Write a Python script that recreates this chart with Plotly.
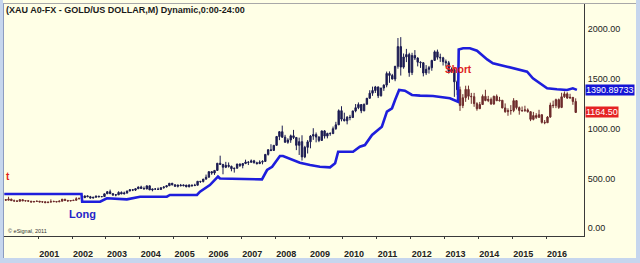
import plotly.graph_objects as go

# ---------------- data (monthly XAU/USD, Jan 2000 .. Nov 2016) ----------------
start_year = 2000
opens = [
    288, 283, 293, 278, 274, 272, 288, 276, 278, 273, 264, 270,      # 2000
    273, 265, 267, 258, 264, 267, 270, 266, 273, 293, 279, 275,      # 2001
    279, 282, 297, 302, 308, 326, 318, 304, 312, 324, 317, 319,      # 2002
    347, 368, 348, 334, 337, 361, 346, 354, 375, 388, 384, 398,      # 2003
    416, 400, 396, 427, 386, 395, 395, 391, 408, 416, 428, 453,      # 2004
    438, 422, 435, 428, 435, 417, 436, 429, 433, 473, 470, 495,      # 2005
    513, 569, 556, 582, 654, 643, 614, 633, 623, 599, 604, 646,      # 2006
    632, 651, 666, 663, 678, 659, 650, 665, 672, 743, 789, 783,      # 2007
    834, 923, 971, 916, 865, 887, 930, 913, 834, 871, 718, 814,      # 2008
    869, 927, 942, 917, 883, 979, 927, 954, 952, 1001, 1040, 1182,   # 2009
    1097, 1081, 1117, 1113, 1180, 1212, 1244, 1181, 1247, 1307, 1358, 1385,  # 2010
    1421, 1332, 1410, 1439, 1556, 1536, 1500, 1628, 1826, 1620, 1722, 1746,  # 2011
    1565, 1737, 1711, 1669, 1664, 1561, 1598, 1614, 1687, 1773, 1719, 1713,  # 2012
    1675, 1663, 1578, 1595, 1472, 1393, 1234, 1312, 1396, 1327, 1323, 1253,  # 2013
    1202, 1244, 1326, 1284, 1296, 1250, 1327, 1282, 1287, 1210, 1172, 1182,  # 2014
    1184, 1283, 1213, 1183, 1183, 1190, 1172, 1095, 1133, 1115, 1142, 1065,  # 2015
    1061, 1118, 1238, 1233, 1293, 1215, 1322, 1351, 1309, 1316, 1275,        # 2016
]
highs = [
    293, 317, 297, 289, 283, 293, 290, 281, 278, 275, 272, 276,
    274, 269, 270, 265, 291, 278, 271, 280, 294, 294, 286, 283,
    286, 312, 304, 310, 328, 332, 326, 316, 327, 325, 322, 349,
    373, 389, 355, 342, 372, 371, 369, 378, 392, 395, 400, 418,
    428, 420, 428, 430, 396, 403, 410, 412, 421, 431, 455, 456,
    441, 438, 446, 439, 435, 441, 437, 448, 474, 476, 495, 540,
    573, 574, 586, 654, 730, 646, 668, 662, 630, 608, 649, 652,
    654, 690, 674, 692, 688, 669, 683, 684, 745, 796, 845, 836,
    928, 976, 1032, 939, 905, 942, 989, 918, 911, 935, 829, 887,
    937, 1006, 963, 926, 982, 987, 960, 965, 1023, 1070, 1195, 1227,
    1162, 1127, 1140, 1180, 1249, 1265, 1246, 1253, 1310, 1388, 1424, 1431,
    1424, 1411, 1447, 1575, 1577, 1552, 1632, 1912, 1921, 1757, 1803, 1764,
    1764, 1791, 1719, 1678, 1669, 1640, 1632, 1693, 1788, 1796, 1755, 1723,
    1696, 1682, 1617, 1617, 1487, 1424, 1348, 1433, 1434, 1361, 1361, 1267,
    1270, 1345, 1392, 1331, 1315, 1332, 1345, 1321, 1287, 1255, 1206, 1238,
    1308, 1287, 1224, 1224, 1232, 1205, 1175, 1170, 1157, 1191, 1143, 1088,
    1128, 1263, 1283, 1303, 1304, 1362, 1375, 1367, 1352, 1318, 1306,
]
lows = [
    281, 282, 276, 271, 269, 270, 275, 269, 271, 263, 263, 267,
    263, 255, 256, 255, 263, 266, 263, 265, 270, 276, 271, 272,
    277, 280, 290, 299, 306, 314, 300, 301, 309, 313, 315, 317,
    346, 345, 328, 322, 334, 343, 341, 350, 372, 374, 375, 396,
    397, 393, 392, 386, 372, 386, 388, 385, 398, 411, 425, 430,
    419, 411, 424, 422, 414, 413, 417, 430, 432, 456, 461, 488,
    513, 538, 537, 579, 640, 543, 605, 610, 573, 560, 601, 616,
    603, 645, 636, 663, 651, 642, 650, 643, 672, 731, 775, 779,
    834, 886, 908, 860, 850, 859, 897, 786, 737, 681, 705, 752,
    804, 889, 864, 866, 880, 902, 904, 930, 947, 990, 1040, 1075,
    1075, 1045, 1086, 1112, 1166, 1197, 1157, 1176, 1243, 1305, 1331, 1360,
    1309, 1324, 1381, 1417, 1462, 1496, 1478, 1604, 1535, 1604, 1670, 1523,
    1540, 1691, 1627, 1612, 1527, 1540, 1555, 1583, 1686, 1695, 1672, 1636,
    1626, 1555, 1562, 1321, 1338, 1180, 1208, 1271, 1292, 1251, 1221, 1182,
    1202, 1240, 1277, 1268, 1240, 1240, 1281, 1274, 1206, 1161, 1131, 1142,
    1167, 1195, 1142, 1170, 1170, 1162, 1077, 1085, 1099, 1111, 1053, 1046,
    1060, 1111, 1208, 1208, 1200, 1208, 1310, 1301, 1302, 1241, 1161,
]
closes = [
    283, 293, 278, 274, 272, 288, 276, 278, 273, 264, 270, 273,
    265, 267, 258, 264, 267, 270, 266, 273, 293, 279, 275, 279,
    282, 297, 302, 308, 326, 318, 304, 312, 324, 317, 319, 347,
    368, 348, 334, 337, 361, 346, 354, 375, 388, 384, 398, 416,
    400, 396, 427, 386, 395, 395, 391, 408, 416, 428, 453, 438,
    422, 435, 428, 435, 417, 436, 429, 433, 473, 470, 495, 513,
    569, 556, 582, 654, 643, 614, 633, 623, 599, 604, 646, 632,
    651, 666, 663, 678, 659, 650, 665, 672, 743, 789, 783, 834,
    923, 971, 916, 865, 887, 930, 913, 834, 871, 718, 814, 869,
    927, 942, 917, 883, 979, 927, 954, 952, 1001, 1040, 1182, 1097,
    1081, 1117, 1113, 1180, 1212, 1244, 1181, 1247, 1307, 1358, 1385, 1421,
    1332, 1410, 1439, 1556, 1536, 1500, 1628, 1826, 1620, 1722, 1746, 1565,
    1737, 1711, 1669, 1664, 1561, 1598, 1614, 1687, 1773, 1719, 1713, 1675,
    1663, 1578, 1595, 1472, 1393, 1234, 1312, 1396, 1327, 1323, 1253, 1202,
    1244, 1326, 1284, 1296, 1250, 1327, 1282, 1287, 1210, 1172, 1182, 1184,
    1283, 1213, 1183, 1183, 1190, 1172, 1095, 1133, 1115, 1142, 1065, 1061,
    1118, 1238, 1233, 1293, 1215, 1322, 1351, 1309, 1316, 1275, 1164.5,
]
# month index (from Jan 2000) where the long / short regimes start
long_start = 27    # Apr 2002
short_start = 161  # Jun 2013

# trailing stop line (decimal year, price)
stop_x = [2000.0, 2002.28, 2002.30, 2002.83, 2003.03, 2003.62, 2004.01, 2004.80,
          2004.89, 2005.69, 2005.78, 2006.07, 2006.31, 2006.37, 2007.61, 2007.76,
          2007.91, 2008.14, 2008.23, 2008.73, 2009.03, 2009.32, 2009.62, 2009.77,
          2009.86, 2010.30, 2010.50, 2010.65, 2010.86, 2011.15, 2011.30, 2011.45,
          2011.54, 2011.66, 2011.83, 2012.04, 2012.28, 2012.66, 2013.16, 2013.40,
          2013.42, 2013.55, 2013.75, 2013.96, 2014.26, 2014.43, 2014.85, 2015.14,
          2015.44, 2015.61, 2015.82, 2016.03, 2016.32, 2016.62, 2016.79, 2016.91]
stop_y = [345, 345, 267, 267, 302, 291, 318, 318,
          335, 335, 368, 435, 519, 500, 492, 586,
          619, 727, 727, 659, 636, 619, 613, 653,
          770, 770, 820, 837, 938, 1021, 1172, 1206,
          1289, 1390, 1383, 1340, 1333, 1330, 1307, 1272,
          1797, 1809, 1809, 1785, 1697, 1658, 1624, 1598,
          1574, 1508, 1457, 1407, 1397, 1390, 1407, 1391]

y_tick_vals = [0, 500, 1000, 1500, 2000]
y_tick_text = ["0.00", "500.00", "1000.00", "1500.00", "2000.00"]
year_ticks = list(range(2001, 2017))
stop_last = 1390.89733
price_last = 1164.50
title_text = "(XAU A0-FX - GOLD/US DOLLAR,M) Dynamic,0:00-24:00"

# ---------------- figure ----------------
W, H = 640, 263
ML, MR, MT, MB = 4, 56, 4, 27
PW, PH = W - ML - MR, H - MT - MB


def pxx(px):
    return (px - ML) / PW


def pxy(py):
    return (H - MB - py) / PH


xs = [start_year + (i + 0.5) / 12 for i in range(len(closes))]

NAVY = "#1c1c52"
BROWN = "#6e2c2c"
BLUE = "#1e1edc"
FONT = "Liberation Sans, Arial, sans-serif"


def candle(i0, i1, color):
    return go.Candlestick(
        x=xs[i0:i1], open=opens[i0:i1], high=highs[i0:i1],
        low=lows[i0:i1], close=closes[i0:i1],
        increasing=dict(line=dict(color=color, width=1), fillcolor=color),
        decreasing=dict(line=dict(color=color, width=1), fillcolor=color),
        whiskerwidth=0, showlegend=False, hoverinfo="skip",
    )


fig = go.Figure()
fig.add_trace(candle(0, long_start, BROWN))
fig.add_trace(candle(long_start, short_start, NAVY))
fig.add_trace(candle(short_start, len(closes), BROWN))
fig.add_trace(go.Scatter(x=stop_x, y=stop_y, mode="lines",
                         line=dict(color=BLUE, width=2.6),
                         showlegend=False, hoverinfo="skip"))

shapes = [
    # cream panel
    dict(type="rect", xref="paper", yref="paper", layer="below",
         x0=pxx(3), x1=pxx(636), y0=pxy(258), y1=pxy(0),
         fillcolor="#ffffe6", line=dict(width=0)),
    # top grey border
    dict(type="line", xref="paper", yref="paper",
         x0=pxx(3), x1=pxx(636), y0=pxy(3.5), y1=pxy(3.5),
         line=dict(color="#a8a8a8", width=1)),
    # left border
    dict(type="line", xref="paper", yref="paper",
         x0=pxx(3.5), x1=pxx(3.5), y0=pxy(258), y1=pxy(3.5),
         line=dict(color="#8c9cc0", width=1)),
]

annotations = [
    dict(xref="paper", yref="paper", x=pxx(4), y=pxy(10), xanchor="left",
         yanchor="middle", text=title_text, showarrow=False,
         font=dict(family=FONT, size=9, color="#1a1a1a", weight="bold")),
    dict(xref="paper", yref="y", x=1, xshift=1, y=stop_last, xanchor="left",
         yanchor="middle", text=f"{stop_last:.5f}", showarrow=False,
         bgcolor="#1515d5", borderpad=0,
         font=dict(family=FONT, size=9, color="white")),
    dict(xref="paper", yref="y", x=1, xshift=1, y=price_last, xanchor="left",
         yanchor="middle", text=f"{price_last:.2f}", showarrow=False,
         bgcolor="#e52222", borderpad=0,
         font=dict(family=FONT, size=9, color="white")),
    dict(xref="x", yref="y", x=2002.32, y=144, text="Long", showarrow=False,
         font=dict(family=FONT, size=11, color="#2424c8", weight="bold")),
    dict(xref="x", yref="y", x=2013.40, y=1591, text="Short", showarrow=False,
         font=dict(family=FONT, size=10, color="#e02020", weight="bold")),
    # tail of an earlier signal label, only its last letter is visible
    dict(xref="paper", yref="y", x=pxx(4), y=516, xanchor="left", text="t",
         showarrow=False,
         font=dict(family=FONT, size=10, color="#e02020", weight="bold")),
    dict(xref="paper", yref="y", x=pxx(6), y=-27, xanchor="left",
         text="© eSignal, 2011", showarrow=False,
         font=dict(family=FONT, size=5.5, color="#333333")),
]

fig.update_layout(
    width=W, height=H,
    margin=dict(l=ML, r=MR, t=MT, b=MB, pad=0),
    paper_bgcolor="#c6d6ee",
    plot_bgcolor="rgba(0,0,0,0)",
    shapes=shapes,
    annotations=annotations,
    showlegend=False,
    xaxis=dict(
        range=[1999.991, 2017.12], rangeslider=dict(visible=False),
        showgrid=False, zeroline=False,
        showline=True, linecolor="#3a3a3a", linewidth=1,
        tickmode="array", tickvals=year_ticks,
        ticktext=[str(y) for y in year_ticks],
        ticks="outside", ticklen=2, tickcolor="#3a3a3a",
        ticklabelposition="outside right", ticklabelstandoff=9,
        tickfont=dict(family=FONT, size=9, color="#222222", weight="bold"),
    ),
    yaxis=dict(
        side="right", range=[-77, 2254],
        showgrid=False, zeroline=False,
        showline=True, linecolor="#3a3a3a", linewidth=1,
        tickmode="array", tickvals=y_tick_vals, ticktext=y_tick_text,
        ticks="", ticklabelstandoff=1,
        tickfont=dict(family=FONT, size=9, color="#222222"),
    ),
)

fig.write_html("out.html")
